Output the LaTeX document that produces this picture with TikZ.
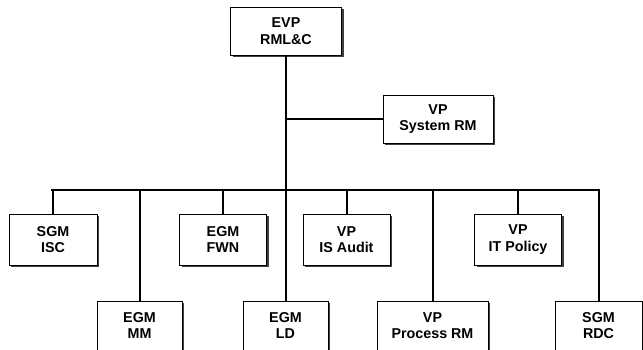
\documentclass[tikz,border=0pt]{standalone}
\usepackage{fontspec}
\setmainfont{Liberation Sans}
\usetikzlibrary{shadows}
\begin{document}
\begin{tikzpicture}[x=1pt,y=-1pt,
  box/.style={draw=black, line width=0.9pt, fill=white, align=center, inner sep=0pt,
    font=\fontsize{14.3}{16.5}\selectfont\bfseries,
    drop shadow={shadow xshift=2.2pt, shadow yshift=-2.2pt, fill=black!75, opacity=1}},
  lbl/.style={align=center, font=\fontsize{14.3}{16.5}\selectfont\bfseries},
  link/.style={line width=2pt, black}]
\useasboundingbox (0,0) rectangle (643,350);
\clip (0,0) rectangle (643,350);
\fill[white] (0,0) rectangle (643,350);
% top
\node[box, minimum width=111pt, minimum height=48pt] (evp) at (286,31) {EVP\\RML\&C};
\node[box, minimum width=110pt, minimum height=48pt] (sys) at (438,119) {VP\\System RM};
% row 1
\node[box, minimum width=88pt, minimum height=51pt] (isc) at (53,239.5) {SGM\\ISC};
\node[box, minimum width=87pt, minimum height=51pt] (fwn) at (223,239.5) {EGM\\FWN};
\node[box, minimum width=87pt, minimum height=51pt] (aud) at (346.5,239.5) {VP\\IS Audit};
\node[box, minimum width=87pt, minimum height=51pt] (itp) at (518,239.5) {VP\\IT Policy};
% row 2
\node[box, minimum width=85pt, minimum height=62pt] (mm) at (139.5,332) {};
\node[box, minimum width=85pt, minimum height=62pt] (ld) at (285.5,332) {};
\node[box, minimum width=111pt, minimum height=62pt] (prm) at (432.5,332) {};
\node[box, minimum width=87pt, minimum height=62pt] (rdc) at (598.5,332) {};
\node[lbl] (mmt) at (139.5,325.5) {EGM\\MM};
\node[lbl] (ldt) at (285.5,325.5) {EGM\\LD};
\node[lbl] (prmt) at (432.5,325.5) {VP\\Process RM};
\node[lbl] (rdct) at (598.5,325.5) {SGM\\RDC};
% connectors
\coordinate (busL) at (51,190);
\coordinate (busR) at (600,190);
\coordinate (sysj) at (285,119);
\draw[link] (evp.south -| ld.north) -- (ld.north);
\draw[link] (sysj) -- (sys.west);
\draw[link] (busL) -- (busR);
\draw[link] (busL -| isc.north) -- (isc.north);
\draw[link] (busL -| fwn.north) -- (fwn.north);
\draw[link] (busL -| aud.north) -- (aud.north);
\draw[link] (busL -| itp.north) -- (itp.north);
\draw[link] (busL -| mm.north) -- (mm.north);
\draw[link] (busL -| prm.north) -- (prm.north);
\draw[link] (busL -| rdc.north) -- (rdc.north);
\end{tikzpicture}
\end{document}
